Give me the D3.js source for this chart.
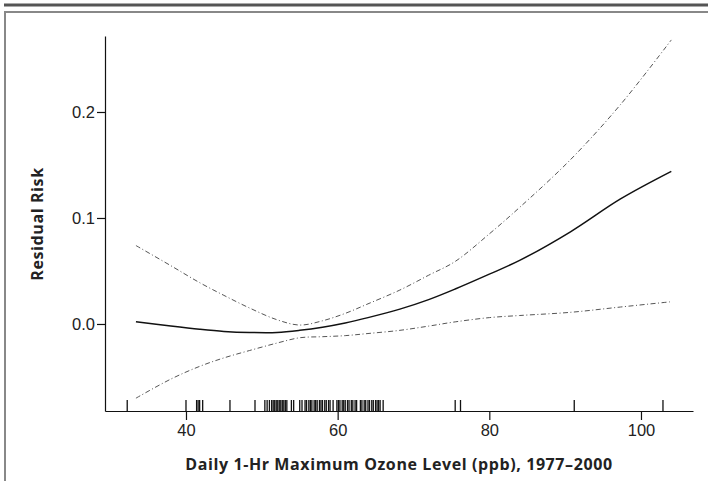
<!DOCTYPE html>
<html>
<head>
<meta charset="utf-8">
<script src="https://cdn.jsdelivr.net/npm/d3@7"></script>
<style>
  body { margin: 0; background: #fff; }
  svg { display: block; font-family: "Open Sans", sans-serif; }
  .axis text { font-size: 16.5px; fill: #222; }
  .axis path, .axis line { stroke: #111; stroke-width: 1.2; }
  .title { font-size: 16px; font-weight: bold; fill: #222; letter-spacing: 0.6px; }
</style>
</head>
<body>
<svg width="708" height="481"></svg>
<script>
// estimated fit (ozone ppb vs residual risk)
const ozone =   [33.4, 38, 41.8, 45, 48.4, 52, 55, 58, 61, 64, 68.2, 72, 75.5, 80, 84, 90.7, 97.3, 104];
const fit =     [0.002, -0.002, -0.005, -0.007, -0.008, -0.008, -0.006, -0.003, 0.001, 0.006, 0.014, 0.023, 0.033, 0.047, 0.060, 0.087, 0.118, 0.144];
const upper =   [0.074, 0.055, 0.039, 0.027, 0.015, 0.004, -0.001, 0.003, 0.010, 0.019, 0.032, 0.046, 0.059, 0.085, 0.110, 0.155, 0.207, 0.268];
const lower =   [-0.070, -0.052, -0.040, -0.032, -0.025, -0.018, -0.013, -0.012, -0.011, -0.009, -0.006, -0.002, 0.002, 0.006, 0.008, 0.011, 0.016, 0.021];
// observed values (rug)
const rug = [32.25, 40.0, 41.4, 41.6, 41.8, 42.2, 45.8, 49.1,
  50.4, 50.7, 51.0, 51.3, 51.5, 51.7, 51.9, 52.1, 52.3, 52.5, 52.7, 52.9, 53.1, 53.3,
  53.9, 54.2, 55.0, 55.3, 55.7, 55.9, 56.2, 56.4, 56.6, 56.9, 57.1, 57.3, 57.6, 57.8,
  58.0, 58.3, 58.5, 58.8, 59.0, 59.4, 59.9, 60.1, 60.3, 60.6, 60.8, 61.0, 61.3, 61.5,
  61.8, 62.0, 62.3, 62.5, 63.0, 63.2, 63.5, 63.7, 64.0, 64.2, 64.5, 64.7, 65.0, 65.2,
  65.4, 65.6, 66.0, 75.5, 76.2, 91.2, 102.9];
const xTicks = [40, 60, 80, 100];
const yTicks = [0.0, 0.1, 0.2];

const svg = d3.select('svg');

// frame
svg.append('line').attr('x1', 4).attr('x2', 708).attr('y1', 5).attr('y2', 5)
  .attr('stroke', '#555').attr('stroke-width', 3);
svg.append('path').attr('d', 'M5,481V12H708')
  .attr('fill', 'none').attr('stroke', '#888').attr('stroke-width', 2);

const x = d3.scaleLinear().domain([29.32, 106.86]).range([105, 693]);
const y = d3.scaleLinear().domain([-0.0821, 0.2717]).range([411, 36]);

svg.append('g')
  .attr('class', 'axis')
  .attr('transform', 'translate(0,411)')
  .call(d3.axisBottom(x).tickValues(xTicks).tickSize(9).tickSizeOuter(0).tickPadding(4));

svg.append('g')
  .attr('class', 'axis')
  .attr('transform', 'translate(105,0)')
  .call(d3.axisLeft(y).tickValues(yTicks).tickSize(8).tickSizeOuter(0).tickPadding(2)
    .tickFormat(d3.format('.1f')));

// rug
svg.append('g').selectAll('line')
  .data(rug)
  .enter()
  .append('line')
  .attr('x1', d => x(d)).attr('x2', d => x(d))
  .attr('y1', 400).attr('y2', 411)
  .attr('stroke', '#111').attr('stroke-width', 1.3);

const line = vals => d3.line()
  .x((d, i) => x(ozone[i]))
  .y(d => y(d))
  .curve(d3.curveCatmullRom)(vals);

svg.append('path').attr('d', line(upper))
  .attr('fill', 'none').attr('stroke', '#555').attr('stroke-width', 1)
  .attr('stroke-dasharray', '5,2.5,1,2.5');
svg.append('path').attr('d', line(lower))
  .attr('fill', 'none').attr('stroke', '#555').attr('stroke-width', 1)
  .attr('stroke-dasharray', '5,2.5,1,2.5');
svg.append('path').attr('d', line(fit))
  .attr('fill', 'none').attr('stroke', '#111').attr('stroke-width', 1.5);

svg.append('text').attr('class', 'title')
  .attr('x', 399).attr('y', 470).attr('text-anchor', 'middle')
  .text('Daily 1-Hr Maximum Ozone Level (ppb), 1977–2000');

svg.append('text').attr('class', 'title')
  .attr('transform', 'translate(43,224) rotate(-90)')
  .attr('text-anchor', 'middle')
  .text('Residual Risk');
</script>
</body>
</html>
